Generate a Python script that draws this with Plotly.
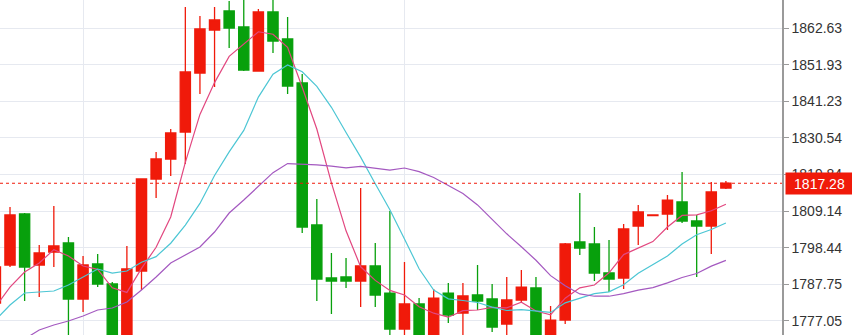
import plotly.graph_objects as go

idx = list(range(51))
opens = [1782.23, 1793.35, 1808.28, 1793.35, 1797.16, 1799.79, 1783.40, 1793.65, 1787.79, 1769.94,
         1791.60, 1818.52, 1824.38, 1832.28, 1849.55, 1862.13, 1867.69, 1863.01, 1850.13, 1867.40,
         1859.50, 1846.62, 1805.06, 1789.55, 1789.84, 1788.67, 1793.06, 1785.15, 1774.62, 1781.94,
         1771.40, 1785.15, 1779.30, 1784.57, 1783.40, 1776.08, 1783.11, 1786.62, 1771.40, 1777.25,
         1800.08, 1799.50, 1791.01, 1789.55, 1804.76, 1807.84, 1808.28, 1811.79, 1806.23, 1804.76,
         1815.89]
highs = [1794.23, 1810.33, 1808.57, 1799.21, 1810.62, 1801.55, 1795.99, 1796.57, 1788.38, 1798.91,
         1818.52, 1826.43, 1833.16, 1868.86, 1866.23, 1868.86, 1870.62, 1873.25, 1868.28, 1872.67,
         1865.94, 1849.25, 1812.67, 1796.87, 1795.40, 1815.89, 1799.79, 1809.15, 1794.23, 1783.69,
         1786.33, 1788.08, 1788.08, 1793.35, 1787.79, 1789.84, 1791.89, 1789.84, 1781.35, 1799.79,
         1814.42, 1804.47, 1800.67, 1805.35, 1810.91, 1808.01, 1813.84, 1820.57, 1807.99, 1817.64,
         1817.93]
lows = [1780.18, 1792.77, 1782.82, 1783.99, 1792.77, 1769.94, 1779.60, 1786.91, 1767.89, 1767.01,
        1786.04, 1812.96, 1819.40, 1822.91, 1843.40, 1845.45, 1856.86, 1850.13, 1850.13, 1855.40,
        1843.40, 1802.72, 1782.82, 1779.01, 1786.62, 1781.06, 1781.06, 1771.98, 1770.81, 1769.94,
        1769.94, 1776.37, 1770.81, 1780.18, 1773.74, 1770.81, 1782.23, 1769.06, 1769.94, 1776.08,
        1796.28, 1788.67, 1785.45, 1786.33, 1799.21, 1807.84, 1803.59, 1805.64, 1789.84, 1796.57,
        1815.59]
closes = [1792.77, 1807.99, 1792.77, 1796.87, 1798.91, 1783.40, 1793.35, 1787.79, 1769.94, 1792.18,
          1818.52, 1824.38, 1831.99, 1849.84, 1862.43, 1865.06, 1862.72, 1850.43, 1867.40, 1858.91,
          1845.74, 1804.47, 1789.26, 1788.67, 1788.67, 1793.06, 1784.57, 1774.62, 1781.94, 1771.40,
          1783.69, 1778.72, 1784.28, 1782.82, 1775.20, 1783.11, 1786.91, 1771.40, 1777.25, 1799.50,
          1798.33, 1791.01, 1789.26, 1803.89, 1808.86, 1808.01, 1812.37, 1806.23, 1804.76, 1814.72,
          1817.28]

ma5 = [1781.06, 1786.91, 1791.30, 1793.94, 1797.86, 1795.99, 1793.06, 1792.07, 1786.68, 1785.33,
       1792.36, 1798.56, 1807.40, 1823.38, 1837.43, 1846.74, 1854.41, 1858.09, 1861.61, 1860.90,
       1857.04, 1845.39, 1833.16, 1817.41, 1803.36, 1792.83, 1788.85, 1785.92, 1784.57, 1781.12,
       1779.25, 1778.08, 1780.01, 1780.18, 1780.94, 1780.83, 1782.47, 1779.89, 1778.78, 1783.64,
       1786.68, 1787.50, 1791.07, 1796.40, 1798.27, 1800.20, 1804.48, 1807.87, 1808.05, 1809.22,
       1811.12]
ma10 = [1777.26, 1781.65, 1785.16, 1785.45, 1785.74, 1787.50, 1789.84, 1792.18, 1791.01, 1791.60,
        1794.17, 1795.81, 1799.73, 1805.03, 1811.38, 1819.55, 1826.48, 1832.75, 1842.49, 1849.17,
        1851.89, 1849.90, 1845.63, 1839.51, 1832.13, 1824.93, 1817.12, 1809.54, 1800.99, 1792.24,
        1786.04, 1783.46, 1782.96, 1782.38, 1781.03, 1780.04, 1780.27, 1779.95, 1779.48, 1782.29,
        1783.75, 1784.98, 1785.48, 1787.59, 1790.95, 1793.44, 1795.99, 1799.47, 1802.22, 1803.74,
        1805.65]
ma20_idx = list(range(2, 51))
ma20 = [1771.69, 1774.33, 1775.79, 1776.96, 1778.43, 1780.18, 1780.77, 1782.52,
        1786.04, 1789.84, 1793.94, 1796.28, 1798.62, 1803.01, 1808.57, 1812.38, 1816.48, 1820.38,
        1823.03, 1822.86, 1822.68, 1822.27, 1821.76, 1822.24, 1821.80, 1821.14, 1821.74, 1820.70,
        1818.96, 1816.68, 1814.29, 1810.94, 1806.58, 1802.48, 1798.69, 1794.74, 1790.24, 1787.27,
        1784.89, 1784.22, 1784.22, 1784.98, 1785.99, 1786.74, 1788.13, 1789.71, 1790.85, 1793.02,
        1794.70]

tick_vals = [1777.05, 1787.75, 1798.44, 1809.14, 1819.84, 1830.54, 1841.23, 1851.93, 1862.63]
tick_text = ["1777.05", "1787.75", "1798.44", "1809.14", "1819.84", "1830.54", "1841.23", "1851.93", "1862.63"]
last_price = 1817.28
last_label = "1817.28"
grid_x = [6, 28]

RED = "#f01a0a"
GREEN = "#08a00c"

fig = go.Figure()
fig.add_trace(go.Candlestick(
    x=idx, open=opens, high=highs, low=lows, close=closes,
    increasing=dict(line=dict(color=RED, width=1.3), fillcolor=RED),
    decreasing=dict(line=dict(color=GREEN, width=1.3), fillcolor=GREEN),
    whiskerwidth=0, hoverinfo="skip", showlegend=False,
))
fig.add_trace(go.Scatter(x=idx, y=ma5, mode="lines", line=dict(color="#e2477f", width=1.2),
                         hoverinfo="skip", showlegend=False))
fig.add_trace(go.Scatter(x=idx, y=ma10, mode="lines", line=dict(color="#4cc6d4", width=1.2),
                         hoverinfo="skip", showlegend=False))
fig.add_trace(go.Scatter(x=ma20_idx, y=ma20, mode="lines", line=dict(color="#a459c0", width=1.2),
                         hoverinfo="skip", showlegend=False))

fig.add_shape(type="line", xref="paper", x0=0, x1=1, yref="y", y0=last_price, y1=last_price,
              line=dict(color=RED, width=1, dash="dot"))

fig.add_annotation(xref="paper", x=785 / 782, xanchor="left", yref="y", y=last_price, yanchor="middle",
                   text=last_label, showarrow=False, bgcolor=RED, borderpad=3, width=61, height=15,
                   align="center", font=dict(family="Liberation Sans, Arial, sans-serif", size=14, color="white"))

fig.update_layout(
    width=852, height=335,
    margin=dict(l=0, r=70, t=0, b=0),
    paper_bgcolor="white", plot_bgcolor="white",
    boxgap=0.30, boxgroupgap=0,
    hovermode=False, showlegend=False,
    xaxis=dict(range=[0.315, 53.84], rangeslider=dict(visible=False), tickvals=grid_x,
               showticklabels=False, showgrid=True, gridcolor="#e6e9f0", gridwidth=1,
               zeroline=False, showline=False, ticks="", fixedrange=True),
    yaxis=dict(range=[1772.87, 1870.91], side="right", tickvals=tick_vals, ticktext=tick_text,
               showgrid=True, gridcolor="#e6e9f0", gridwidth=1, zeroline=False,
               showline=True, linecolor="#9a9a9a", linewidth=1.5,
               ticks="outside", ticklen=5, tickcolor="#9a9a9a", tickwidth=1,
               tickfont=dict(family="Liberation Sans, Arial, sans-serif", size=14, color="#333333"),
               fixedrange=True),
)

fig.write_html("out.html")
